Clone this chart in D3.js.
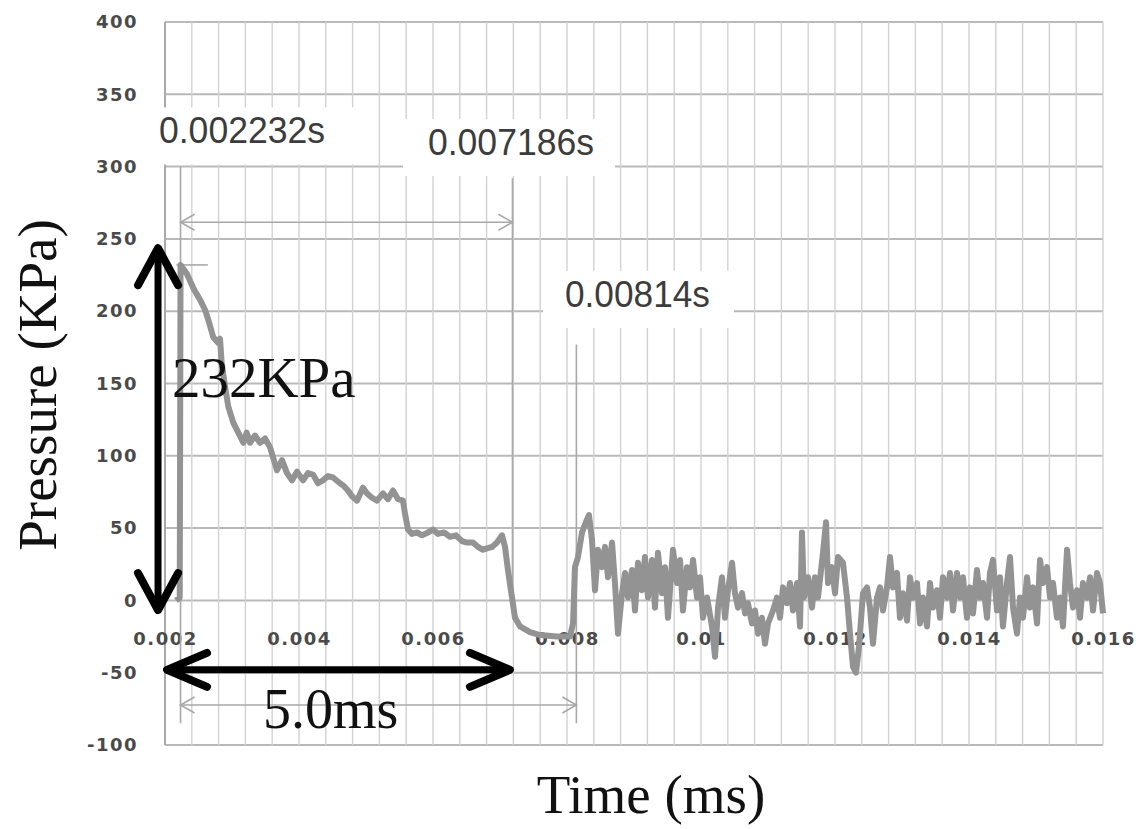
<!DOCTYPE html>
<html>
<head>
<meta charset="utf-8">
<script src="https://cdn.jsdelivr.net/npm/d3@7"></script>
<style>
    body { margin: 0; background: #fff; }
    .tick-label { font-family: "DejaVu Sans", sans-serif; font-size: 18px; font-weight: bold; fill: #4a4a4a; letter-spacing: 1.5px; }
</style>
</head>
<body>
<div id="chart"></div>
<script>

// axis ticks
const yTickValues = [-100, -50, 0, 50, 100, 150, 200, 250, 300, 350, 400];
const xTickValues = [0.002, 0.004, 0.006, 0.008, 0.01, 0.012, 0.014, 0.016];

// pressure trace (time in s, pressure in KPa)
const timeValues = [
    0.002164, 0.002220, 0.002232, 0.002324, 0.002422, 0.002522, 0.002597, 0.002646, 0.002721, 0.002796,
    0.002821, 0.002846, 0.002896, 0.002945, 0.003019, 0.003094, 0.003169, 0.003219, 0.003269, 0.003343,
    0.003418, 0.003493, 0.003567, 0.003612, 0.003672, 0.003746, 0.003821, 0.003896, 0.003970, 0.004060,
    0.004134, 0.004209, 0.004284, 0.004358, 0.004433, 0.004507, 0.004612, 0.004672, 0.004731, 0.004791,
    0.004866, 0.004955, 0.005015, 0.005090, 0.005164, 0.005254, 0.005328, 0.005403, 0.005478, 0.005552,
    0.005582, 0.005627, 0.005687, 0.005761, 0.005836, 0.005925, 0.006000, 0.006075, 0.006164, 0.006254,
    0.006343, 0.006433, 0.006507, 0.006597, 0.006672, 0.006746, 0.006806, 0.006881, 0.006955, 0.007030,
    0.007075, 0.007119, 0.007179, 0.007224, 0.007299, 0.007448, 0.007597, 0.007851, 0.008045, 0.008090,
    0.008119, 0.008164, 0.008224, 0.008299, 0.008328, 0.008373, 0.008418, 0.008463, 0.008522, 0.008567,
    0.008612, 0.008672, 0.008716, 0.008761, 0.008821, 0.008866, 0.008910, 0.008970, 0.009015, 0.009060,
    0.009119, 0.009164, 0.009209, 0.009269, 0.009313, 0.009358, 0.009418, 0.009463, 0.009507, 0.009582,
    0.009642, 0.009687, 0.009731, 0.009791, 0.009836, 0.009881, 0.009940, 0.009985, 0.010030, 0.010090,
    0.010164, 0.010209, 0.010254, 0.010313, 0.010358, 0.010403, 0.010463, 0.010507, 0.010552, 0.010612,
    0.010657, 0.010701, 0.010761, 0.010806, 0.010851, 0.010910, 0.010955, 0.011000, 0.011075, 0.011134,
    0.011179, 0.011224, 0.011284, 0.011328, 0.011373, 0.011433, 0.011478, 0.011507, 0.011537, 0.011597,
    0.011657, 0.011701, 0.011746, 0.011821, 0.011866, 0.011896, 0.011955, 0.012000, 0.012045, 0.012119,
    0.012179, 0.012224, 0.012269, 0.012313, 0.012358, 0.012418, 0.012478, 0.012522, 0.012567, 0.012627,
    0.012672, 0.012716, 0.012776, 0.012821, 0.012866, 0.012925, 0.012970, 0.013015, 0.013075, 0.013119,
    0.013164, 0.013224, 0.013269, 0.013313, 0.013373, 0.013418, 0.013463, 0.013522, 0.013567, 0.013612,
    0.013672, 0.013716, 0.013761, 0.013821, 0.013866, 0.013910, 0.013970, 0.014015, 0.014060, 0.014119,
    0.014164, 0.014209, 0.014269, 0.014313, 0.014358, 0.014418, 0.014463, 0.014507, 0.014567, 0.014612,
    0.014657, 0.014716, 0.014761, 0.014806, 0.014866, 0.014910, 0.014955, 0.015015, 0.015060, 0.015104,
    0.015164, 0.015209, 0.015254, 0.015313, 0.015358, 0.015403, 0.015463, 0.015507, 0.015552, 0.015612,
    0.015657, 0.015701, 0.015761, 0.015806, 0.015851, 0.015910, 0.015955, 0.016000
];
const pressureValues = [
    0, 2, 232, 226, 216, 208, 201, 194, 182, 178,
    181, 164, 148, 134, 123, 116, 109, 116, 109, 114,
    109, 112, 106, 99, 90, 97, 88, 83, 89, 83,
    88, 87, 81, 83, 86, 85, 81, 79, 76, 72,
    69, 78, 74, 71, 69, 74, 70, 76, 70, 69,
    60, 49, 46, 47, 45, 47, 49, 46, 47, 44,
    45, 41, 40, 40, 37, 35, 36, 37, 40, 45,
    37, 21, 2, -12, -18, -22, -24, -25, -25, -16,
    23, 30, 47, 56, 59, 42, 7, 35, 23, 37,
    16, 40, 12, -23, 5, 19, 2, 21, -7, 26,
    7, 30, 2, 28, -5, 33, 5, 23, -12, 35,
    12, 28, -7, 23, 9, 28, 2, 16, -12, 2,
    -18, -39, -5, 16, -12, 7, 26, 5, -5, 5,
    -9, -2, -16, -7, -23, -12, -30, -16, -7, 2,
    -12, 9, -2, 12, -7, 12, -18, 47, 2, 16,
    -5, 16, 2, 33, 54, 12, 23, 5, 30, 26,
    2, -23, -46, -50, -32, 5, 9, -5, -30, 2,
    9, -7, 9, 30, 9, 19, -12, 5, -14, 16,
    2, 12, -16, 2, -18, 12, -5, 7, -12, 16,
    2, 19, -7, 19, 2, 16, -12, 9, -9, 21,
    2, 12, -12, 19, 28, -7, 16, -18, 12, 30,
    -5, -23, 2, -12, 16, -5, 9, -16, 28, 12,
    23, 2, 12, -12, 2, -18, 35, 12, -5, 7,
    -12, 12, 2, 16, -7, 19, 12, -9
];

// annotations
const markerTimes = [0.002232, 0.007186, 0.00814];
const markerLabels = ["0.002232s", "0.007186s", "0.00814s"];
const peakPressure = 232;
const peakLabel = "232KPa";
const durationLabel = "5.0ms";


class PressureChart {

    constructor(_parentElement, _time, _pressure) {
        this.parentElement = _parentElement;
        this.time = _time;
        this.pressure = _pressure;
        this.displayData = [];

        this.initVis();
    }

    initVis() {
        let vis = this;

        vis.margin = { top: 22, right: 35, bottom: 84, left: 165 };
        vis.width = 1138 - vis.margin.left - vis.margin.right;
        vis.height = 829 - vis.margin.top - vis.margin.bottom;

        vis.root = d3.select("#" + vis.parentElement).append("svg")
            .attr("width", 1138)
            .attr("height", 829);

        vis.svg = vis.root.append("g")
            .attr("transform", "translate(" + vis.margin.left + "," + vis.margin.top + ")");

        vis.x = d3.scaleLinear()
            .domain([0.002, 0.016])
            .range([0, vis.width]);

        vis.y = d3.scaleLinear()
            .domain([-100, 400])
            .range([vis.height, 0]);

        vis.wrangleData();
    }

    wrangleData() {
        let vis = this;

        vis.displayData = vis.time.map((t, i) => ({ t: t, p: vis.pressure[i] }));

        vis.updateVis();
    }

    updateVis() {
        let vis = this;
        let x = vis.x, y = vis.y;

        // horizontal grid
        vis.svg.append("g").selectAll("line")
            .data(yTickValues)
            .enter().append("line")
            .attr("x1", 0).attr("x2", vis.width)
            .attr("y1", d => y(d)).attr("y2", d => y(d))
            .attr("stroke", "#b9b9b9")
            .attr("stroke-width", 2);

        // vertical minor grid, every 0.0004 s
        let xGrid = d3.range(0, 36).map(i => 0.002 + i * 0.0004);
        vis.svg.append("g").selectAll("line")
            .data(xGrid)
            .enter().append("line")
            .attr("x1", d => x(d)).attr("x2", d => x(d))
            .attr("y1", 0).attr("y2", vis.height)
            .attr("stroke", (d, i) => (i === 0 ? "#aaaaaa" : "#d2d2d2"))
            .attr("stroke-width", (d, i) => (i === 0 ? 2 : 1.4));

        // label boxes hide the grid behind them
        let labelPos = [
            { t: 0.00191, p: 316, padL: 9, padR: 47 },
            { t: 0.005925, p: 308, padL: 25, padR: 21 },
            { t: 0.00797, p: 203, padL: 22, padR: 24 }
        ];
        let boxLayer = vis.svg.append("g");
        let labelLayer = vis.svg.append("g");
        markerLabels.forEach((lab, i) => {
            let txt = labelLayer.append("text")
                .attr("x", x(labelPos[i].t))
                .attr("y", y(labelPos[i].p))
                .attr("font-family", "Liberation Sans, Arial, sans-serif")
                .attr("font-size", 37)
                .attr("fill", "#3c3c3c")
                .attr("textLength", i === 2 ? 145 : 166)
                .attr("lengthAdjust", "spacingAndGlyphs")
                .text(lab);
            let bb = txt.node().getBBox();
            boxLayer.append("rect")
                .attr("x", bb.x - labelPos[i].padL)
                .attr("y", bb.y - 3)
                .attr("width", bb.width + labelPos[i].padL + labelPos[i].padR)
                .attr("height", bb.height + 16)
                .attr("fill", "#fff");
        });

        // axes (labels only, Excel style with x labels under the zero line)
        let yAxis = d3.axisLeft(y).tickValues(yTickValues).tickSize(0).tickPadding(27)
            .tickFormat(d => String(d));
        let yG = vis.svg.append("g").call(yAxis);
        yG.select(".domain").remove();
        yG.selectAll("text").attr("class", "tick-label").attr("font-family", null).attr("font-size", null);

        let xAxis = d3.axisBottom(x).tickValues(xTickValues).tickSize(0).tickPadding(32)
            .tickFormat(d3.format("~g"));
        let xG = vis.svg.append("g")
            .attr("transform", "translate(0," + y(0) + ")")
            .call(xAxis);
        xG.select(".domain").remove();
        xG.selectAll("text").attr("class", "tick-label").attr("font-family", null).attr("font-size", null);

        // thin gray marker lines and dimension arrows
        let gray = vis.svg.append("g")
            .attr("stroke", "#a8a8a8")
            .attr("stroke-width", 1.6)
            .attr("fill", "none");
        let markerSpans = [[300, -85], [292, 0], [177, -85]];
        markerTimes.forEach((t, i) => {
            gray.append("line")
                .attr("x1", x(t)).attr("x2", x(t))
                .attr("y1", y(markerSpans[i][0])).attr("y2", y(markerSpans[i][1]));
        });
        gray.append("line")
            .attr("x1", x(0.00217)).attr("x2", x(0.00264))
            .attr("y1", y(peakPressure)).attr("y2", y(peakPressure));

        vis.thinArrow(gray, markerTimes[0], markerTimes[1], 261.5);
        vis.thinArrow(gray, markerTimes[0], markerTimes[2], -72.3);

        // pressure curve
        let line = d3.line()
            .x(d => x(d.t))
            .y(d => y(d.p));

        vis.svg.append("path")
            .datum(vis.displayData)
            .attr("d", line)
            .attr("fill", "none")
            .attr("stroke", "#939393")
            .attr("stroke-width", 6)
            .attr("stroke-linejoin", "round");

        // bold black arrows
        let black = vis.svg.append("g")
            .attr("stroke", "#000")
            .attr("fill", "none")
            .attr("stroke-linecap", "round")
            .attr("stroke-linejoin", "round");

        let ax = x(0.001896), yTop = y(243.6), yBot = y(-6.7);
        black.append("line")
            .attr("x1", ax).attr("x2", ax)
            .attr("y1", yTop + 4).attr("y2", yBot - 4)
            .attr("stroke-width", 7);
        black.append("polyline")
            .attr("points", [[ax - 20, yTop + 37], [ax, yTop], [ax + 20, yTop + 37]].join(" "))
            .attr("stroke-width", 8);
        black.append("polyline")
            .attr("points", [[ax - 20, yBot - 37], [ax, yBot], [ax + 20, yBot - 37]].join(" "))
            .attr("stroke-width", 8);

        let ay = y(-48), xL = x(0.00203), xR = x(0.007149);
        black.append("line")
            .attr("x1", xL + 4).attr("x2", xR - 4)
            .attr("y1", ay).attr("y2", ay)
            .attr("stroke-width", 7);
        black.append("polyline")
            .attr("points", [[xL + 40, ay - 17], [xL, ay], [xL + 40, ay + 17]].join(" "))
            .attr("stroke-width", 8);
        black.append("polyline")
            .attr("points", [[xR - 40, ay - 17], [xR, ay], [xR - 40, ay + 17]].join(" "))
            .attr("stroke-width", 8);

        // big serif annotations
        vis.svg.append("text")
            .attr("x", x(0.002104))
            .attr("y", y(140.6))
            .attr("font-family", "Liberation Serif, Times New Roman, serif")
            .attr("font-size", 57)
            .attr("fill", "#111")
            .text(peakLabel);

        vis.svg.append("text")
            .attr("x", x(0.003463))
            .attr("y", y(-88.2))
            .attr("font-family", "Liberation Serif, Times New Roman, serif")
            .attr("font-size", 56)
            .attr("fill", "#111")
            .text(durationLabel);

        // axis titles
        vis.root.append("text")
            .attr("transform", "translate(56,385) rotate(-90)")
            .attr("text-anchor", "middle")
            .attr("font-family", "Liberation Serif, Times New Roman, serif")
            .attr("font-size", 55)
            .attr("fill", "#111")
            .text("Pressure (KPa)");

        vis.root.append("text")
            .attr("x", 651)
            .attr("y", 813)
            .attr("text-anchor", "middle")
            .attr("font-family", "Liberation Serif, Times New Roman, serif")
            .attr("font-size", 55)
            .attr("fill", "#111")
            .text("Time (ms)");
    }

    // thin double headed arrow with open chevrons
    thinArrow(g, t0, t1, p) {
        let vis = this;
        let x0 = vis.x(t0), x1 = vis.x(t1), yy = vis.y(p);
        g.append("line")
            .attr("x1", x0).attr("x2", x1)
            .attr("y1", yy).attr("y2", yy);
        g.append("polyline")
            .attr("points", [[x0 + 14, yy - 8], [x0, yy], [x0 + 14, yy + 8]].join(" "));
        g.append("polyline")
            .attr("points", [[x1 - 14, yy - 8], [x1, yy], [x1 - 14, yy + 8]].join(" "));
    }
}

let chart = new PressureChart("chart", timeValues, pressureValues);

</script>
</body>
</html>
